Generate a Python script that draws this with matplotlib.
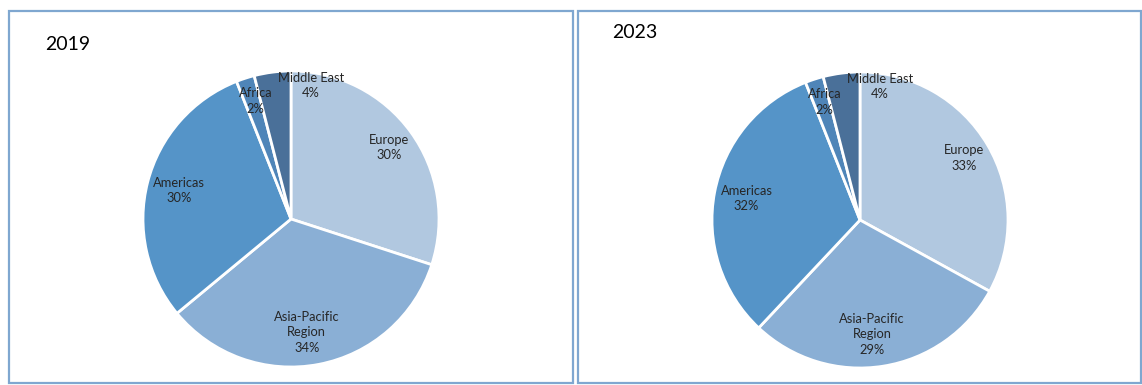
import matplotlib.pyplot as plt
import numpy as np
from matplotlib.patches import Rectangle

regions = ["Europe", "Asia-Pacific\nRegion", "Americas", "Africa", "Middle East"]
share_2019 = [30, 34, 30, 2, 4]
share_2023 = [33, 29, 32, 2, 4]
years = ["2019", "2023"]

colors = ["#B1C8E0", "#8AAFD5", "#5594C8", "#4F85B8", "#4A7099"]
text_color = "#262626"
border_color = "#7FA7D0"

W, H = 1142, 385
fig = plt.figure(figsize=(W / 100, H / 100), dpi=100)
plt.rcParams["font.family"] = ["Lato", "DejaVu Sans"]

# panel frames (pixels: left, top, right, bottom)
panels = [(9, 11, 573, 383), (578, 11, 1141, 383)]
for x0, y0, x1, y1 in panels:
    fig.patches.append(Rectangle((x0 / W, 1 - y1 / H), (x1 - x0) / W, (y1 - y0) / H,
                                 transform=fig.transFigure, fill=False,
                                 edgecolor=border_color, linewidth=1.6))

# pie centres and radius in pixels
centres = [(291, 219), (860, 220)]
R = 148
title_pos = [(45, 45), (612, 33)]

# per-label radial distance and nudges for the crowded slices
label_r = [0.82, 0.78, 0.78, 0.84, 0.93]
label_shift = [(0, 0), (-0.04, 0), (0, 0), (0.02, 0.0), (0.25, -0.02)]

for k, vals in enumerate([share_2019, share_2023]):
    cx, cy = centres[k]
    ax = fig.add_axes([(cx - R) / W, 1 - (cy + R) / H, 2 * R / W, 2 * R / H])
    wedges, _ = ax.pie(vals, colors=colors, startangle=90, counterclock=False,
                       radius=1, wedgeprops=dict(edgecolor="white", linewidth=2))
    ax.set_xlim(-1, 1)
    ax.set_ylim(-1, 1)
    ax.set_aspect("equal")
    ax.axis("off")

    for i, w in enumerate(wedges):
        ang = np.deg2rad((w.theta1 + w.theta2) / 2)
        x = label_r[i] * np.cos(ang) + label_shift[i][0]
        y = label_r[i] * np.sin(ang) + label_shift[i][1]
        ax.text(x, y, f"{regions[i]}\n{vals[i]}%", ha="center", va="center",
                fontsize=9.3, color=text_color, linespacing=1.35)

    tx, ty = title_pos[k]
    fig.text(tx / W, 1 - ty / H, years[k], fontsize=14, color="black",
             ha="left", va="center")

fig.savefig("out.png", dpi=100)
